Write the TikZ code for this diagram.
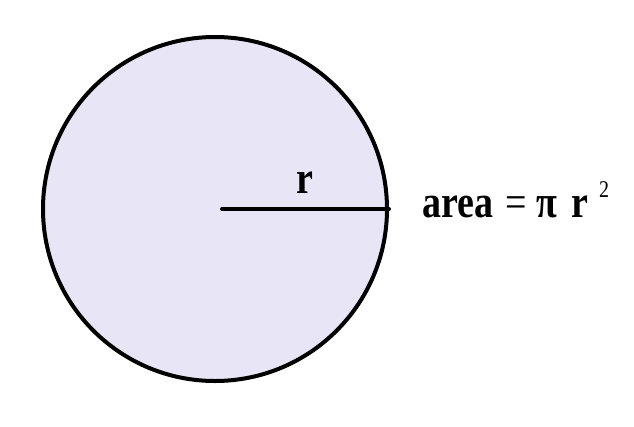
\documentclass[tikz,border=0pt]{standalone}
\usepackage{fontspec}
\setmainfont{Liberation Serif}
\newcommand{\tallbf}[1]{\scalebox{1}[1.2]{\bfseries\fontsize{38}{44}\selectfont #1}}
\newcommand{\tallrm}[1]{\scalebox{1}[1.2]{\fontsize{38}{44}\selectfont #1}}
\newcommand{\tallsup}[1]{\scalebox{1}[1.2]{\fontsize{20}{24}\selectfont #1}}
\begin{document}
\begin{tikzpicture}[x=1pt,y=-1pt,
  lbl/.style={inner sep=0pt,anchor=base west}]
\useasboundingbox (0,0) rectangle (634,426);
\definecolor{lav}{RGB}{232,230,246}
\node[circle,draw=black,line width=4pt,fill=lav,minimum size=344pt,inner sep=0pt] (c) at (215,209) {};
\coordinate (ctr) at (222,209);
\draw[line width=4pt,line cap=round] (ctr) -- (c.east);
\node[lbl] (rl) at (296,193) {\tallbf{r}};
\node[lbl] (ar) at (422,217) {\tallbf{area}};
\node[lbl] (eq) at (505,217) {\tallrm{=}};
\node[lbl] (pi) at (536,217) {\tallbf{π}};
\node[lbl] (r2) at (571,217) {\tallbf{r}};
\node[lbl] (sq) at (599,197) {\tallsup{2}};
\end{tikzpicture}
\end{document}
